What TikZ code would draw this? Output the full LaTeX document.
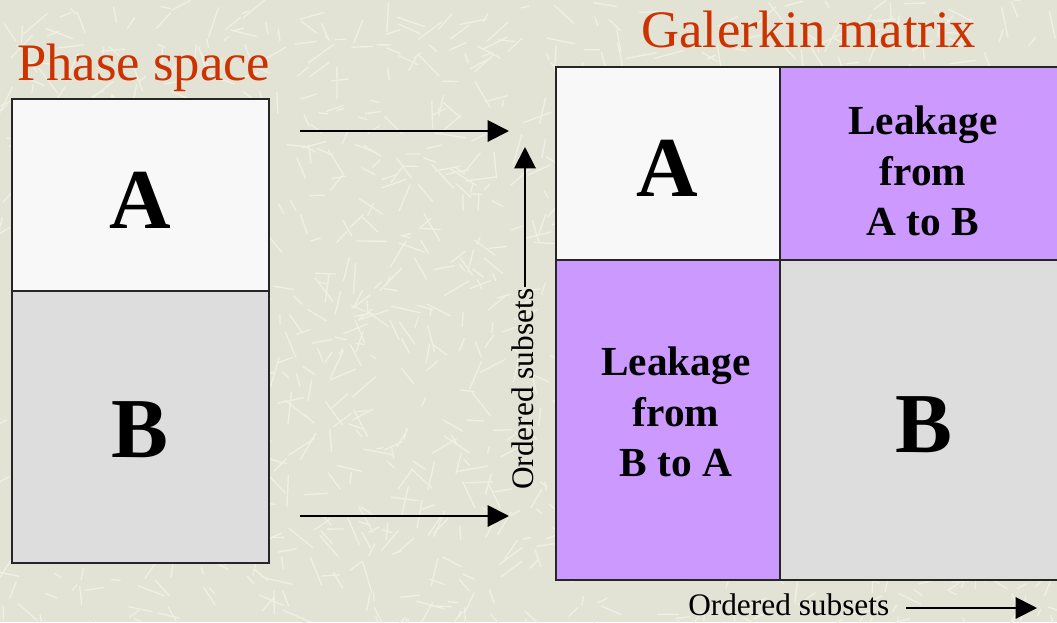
\documentclass[tikz,border=0pt]{standalone}
\usepackage{fontspec}
\setmainfont{Liberation Serif}
\usetikzlibrary{arrows.meta}
\definecolor{bgcol}{RGB}{227,227,213}
\definecolor{streak}{RGB}{239,239,228}
\definecolor{titlecol}{RGB}{204,51,0}
\definecolor{lightcell}{RGB}{248,248,248}
\definecolor{graycell}{RGB}{221,221,221}
\definecolor{leakcell}{RGB}{204,153,255}
\begin{document}
\begin{tikzpicture}[x=0.75pt,y=-0.75pt,
  cellbox/.style={draw=black!85,line width=1.4pt},
  title/.style={text=titlecol,font=\fontsize{39.5}{44}\selectfont,inner sep=0pt,anchor=base west},
  bigletter/.style={font=\bfseries\fontsize{64}{70}\selectfont,inner sep=0pt},
  leak/.style={font=\bfseries\fontsize{31}{37.8}\selectfont,align=center,inner sep=0pt},
  axislabel/.style={font=\fontsize{23.5}{26}\selectfont,inner sep=0pt,anchor=base west},
  flow/.style={line width=1.5pt,-{Triangle[length=16pt,width=16pt]}}]
  \useasboundingbox (0,0) rectangle (1057,622);
  \begin{scope}
    \clip (0,0) rectangle (1057,622);
    % textured paper background
    \fill[bgcol] (0,0) rectangle (1057,622);
    \pgfmathsetseed{4711}
    \foreach \i in {1,...,1400}{
      \pgfmathsetmacro{\px}{rnd*1057}
      \pgfmathsetmacro{\py}{rnd*622}
      \pgfmathsetmacro{\ang}{rnd*180}
      \pgfmathsetmacro{\len}{6+rnd*26}
      \draw[streak,line width=1pt,line cap=round] (\px,\py) -- ++(\ang:\len);
    }
    % phase space column
    \draw[cellbox,fill=lightcell] (12,99) rectangle (269,291);
    \draw[cellbox,fill=graycell] (12,291) rectangle (269,563);
    % Galerkin matrix blocks
    \draw[cellbox,fill=lightcell] (556,67) rectangle (780,260);
    \draw[cellbox,fill=leakcell] (780,67) rectangle (1068,260);
    \draw[cellbox,fill=leakcell] (556,260) rectangle (780,580);
    \draw[cellbox,fill=graycell] (780,260) rectangle (1068,580);
  \end{scope}

  \node[title] (pstitle) at (17,80) {Phase space};
  \node[title] (gmtitle) at (641,47) {Galerkin matrix};

  \node[bigletter] (psA) at (140,200) {A};
  \node[bigletter] (psB) at (140,430) {B};
  \node[bigletter] (mA) at (667,168) {A};
  \node[bigletter] (mB) at (924,425) {B};
  \node[leak] (leakAB) at (923,171) {Leakage\\from\\A to B};
  \node[leak] (leakBA) at (676,412) {Leakage\\from\\B to A};

  % arrows from the phase space to the matrix
  \coordinate (a1s) at (300,131);
  \coordinate (a1e) at (509,131);
  \coordinate (a2s) at (300,516);
  \coordinate (a2e) at (509,516);
  \draw[flow] (a1s) -- (a1e);
  \draw[flow] (a2s) -- (a2e);

  % axis labels
  \node[axislabel,rotate=90] (rowlbl) at (533,490) {Ordered subsets};
  \coordinate (rowS) at (525,287);
  \coordinate (rowE) at (525,147);
  \draw[flow] (rowS) -- (rowE);

  \node[axislabel] (collbl) at (688,615) {Ordered subsets};
  \coordinate (colS) at (906,608);
  \coordinate (colE) at (1037,608);
  \draw[flow] (colS) -- (colE);
\end{tikzpicture}
\end{document}
